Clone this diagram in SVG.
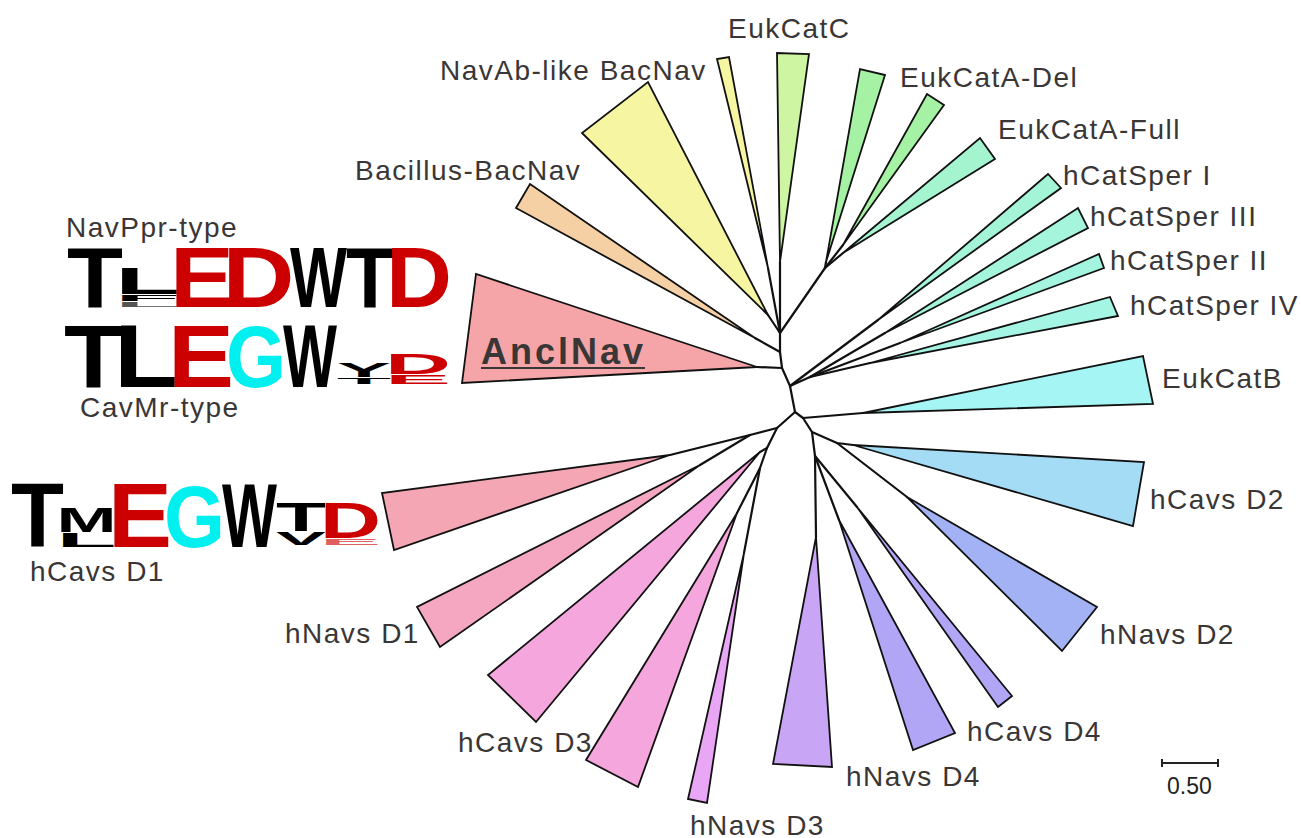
<svg xmlns="http://www.w3.org/2000/svg" width="1301" height="838" viewBox="0 0 1301 838">
  <style>
    .clade { stroke: #111; stroke-width: 1.8; stroke-linejoin: miter; }
    .edge { fill: none; stroke: #111; stroke-width: 2.2; stroke-linecap: round; stroke-linejoin: round; }
    .lbl { font-family: "Liberation Sans", Arial, sans-serif; font-size: 28px; fill: #3a3636; letter-spacing: 1.5px; }
    .logo { font-family: "Liberation Sans", Arial, sans-serif; font-weight: bold; font-size: 100px; }
    .k { fill: #000; }
    .r { fill: #cc0000; }
    .c { fill: #00f0f0; }
  </style>

  <!-- branches of the unrooted tree -->
  <g id="connectors">
    <!-- spine -->
    <polyline class="edge" points="780,333 780,352 782,368 790,386 795,412"/>
    <!-- upper group -->
    <line class="edge" x1="780" y1="333" x2="768" y2="315"/>
    <line class="edge" x1="780" y1="333" x2="768" y2="268"/>
    <line class="edge" x1="780" y1="333" x2="780" y2="262"/>
    <line class="edge" x1="780" y1="333" x2="825" y2="268"/>
    <line class="edge" x1="825" y1="268" x2="826" y2="262"/>
    <line class="edge" x1="825" y1="268" x2="843" y2="245"/>
    <line class="edge" x1="825" y1="268" x2="843" y2="253"/>
    <line class="edge" x1="780" y1="352" x2="755" y2="338"/>
    <line class="edge" x1="782" y1="368" x2="757" y2="367"/>
    <!-- CatSper group -->
    <line class="edge" x1="790" y1="386" x2="878" y2="320"/>
    <line class="edge" x1="790" y1="386" x2="810" y2="377"/>
    <line class="edge" x1="810" y1="377" x2="885" y2="333"/>
    <line class="edge" x1="810" y1="377" x2="900" y2="343"/>
    <line class="edge" x1="810" y1="377" x2="870" y2="363"/>
    <!-- right lower group -->
    <polyline class="edge" points="795,412 803,418 863,413"/>
    <polyline class="edge" points="803,418 812,432 837,443 853,445"/>
    <line class="edge" x1="837" y1="443" x2="907" y2="497"/>
    <polyline class="edge" points="812,432 815,456 816,537"/>
    <line class="edge" x1="815" y1="456" x2="839" y2="520"/>
    <line class="edge" x1="815" y1="456" x2="857" y2="507"/>
    <!-- left lower group -->
    <polyline class="edge" points="795,412 777,428 750,435 670,455"/>
    <line class="edge" x1="750" y1="435" x2="700" y2="465"/>
    <polyline class="edge" points="777,428 767,448 760,452"/>
    <polyline class="edge" points="767,448 760,468 737,513"/>
    <line class="edge" x1="760" y1="468" x2="744" y2="553"/>
  </g>

  <!-- collapsed clades -->
  <g id="navab-like-bacnav">
    <polygon class="clade" fill="#f6f5a2" points="768,315 582,133 648,82"/>
    <polygon class="clade" fill="#f6f5a2" points="768,268 717,59 729,57"/>
    <text class="lbl" x="440" y="80">NavAb-like BacNav</text>
  </g>
  <g id="eukcatc">
    <polygon class="clade" fill="#cdf5a2" points="780,262 777,53 809,54"/>
    <text class="lbl" x="728" y="38">EukCatC</text>
  </g>
  <g id="eukcata-del">
    <polygon class="clade" fill="#a6f2a4" points="826,262 860,69 885,75"/>
    <polygon class="clade" fill="#a6f2a4" points="843,245 927,94 944,105"/>
    <text class="lbl" x="900" y="87">EukCatA-Del</text>
  </g>
  <g id="eukcata-full">
    <polygon class="clade" fill="#a4f5cf" points="843,253 980,138 995,159"/>
    <text class="lbl" x="998" y="139">EukCatA-Full</text>
  </g>
  <g id="bacillus-bacnav">
    <polygon class="clade" fill="#f6d0a5" points="755,338 516,208 530,184"/>
    <text class="lbl" x="355" y="180">Bacillus-BacNav</text>
  </g>
  <g id="anclnav">
    <polygon class="clade" fill="#f5a5a8" points="757,367 476,274 462,383"/>
    <text x="481" y="364" style="font-family:'Liberation Sans',Arial,sans-serif;font-weight:bold;font-size:36px;letter-spacing:3px;fill:#3a3636">AnclNav</text>
    <line x1="481" y1="368" x2="645" y2="368" stroke="#3a3636" stroke-width="2"/>
  </g>
  <g id="hcatsper-i">
    <polygon class="clade" fill="#a4f5d8" points="878,320 1048,174 1061,188"/>
    <text class="lbl" x="1063" y="185">hCatSper I</text>
  </g>
  <g id="hcatsper-iii">
    <polygon class="clade" fill="#a4f5dc" points="885,333 1078,208 1088,228"/>
    <text class="lbl" x="1090" y="226">hCatSper III</text>
  </g>
  <g id="hcatsper-ii">
    <polygon class="clade" fill="#a4f5e0" points="900,343 1099,254 1104,268"/>
    <text class="lbl" x="1110" y="270">hCatSper II</text>
  </g>
  <g id="hcatsper-iv">
    <polygon class="clade" fill="#a4f5e4" points="870,363 1110,297 1118,316"/>
    <text class="lbl" x="1130" y="315">hCatSper IV</text>
  </g>
  <g id="eukcatb">
    <polygon class="clade" fill="#a6f5f5" points="863,413 1143,356 1153,404"/>
    <text class="lbl" x="1162" y="388">EukCatB</text>
  </g>
  <g id="hcavs-d2">
    <polygon class="clade" fill="#a4dcf5" points="853,445 1144,462 1133,526"/>
    <text class="lbl" x="1150" y="509">hCavs D2</text>
  </g>
  <g id="hnavs-d2">
    <polygon class="clade" fill="#a2b2f5" points="907,497 1097,607 1062,651"/>
    <text class="lbl" x="1100" y="644">hNavs D2</text>
  </g>
  <g id="hcavs-d4">
    <polygon class="clade" fill="#b1a6f5" points="839,520 955,733 913,750"/>
    <polygon class="clade" fill="#b1a6f5" points="857,507 1012,696 998,707"/>
    <text class="lbl" x="967" y="741">hCavs D4</text>
  </g>
  <g id="hnavs-d4">
    <polygon class="clade" fill="#c9a6f5" points="816,537 832,767 773,764"/>
    <text class="lbl" x="846" y="786">hNavs D4</text>
  </g>
  <g id="hnavs-d3">
    <polygon class="clade" fill="#e8a6f5" points="744,553 707,803 688,799"/>
    <text class="lbl" x="690" y="835">hNavs D3</text>
  </g>
  <g id="hcavs-d3">
    <polygon class="clade" fill="#f5a6dc" points="760,452 536,722 488,675"/>
    <polygon class="clade" fill="#f5a6dc" points="737,513 638,787 586,760"/>
    <text class="lbl" x="458" y="752">hCavs D3</text>
  </g>
  <g id="hnavs-d1">
    <polygon class="clade" fill="#f5a6c0" points="700,465 440,647 417,607"/>
    <text class="lbl" x="285" y="643">hNavs D1</text>
  </g>
  <g id="hcavs-d1">
    <polygon class="clade" fill="#f5a6b4" points="670,455 382,493 394,550"/>
    <text class="lbl" x="30" y="581">hCavs D1</text>
  </g>

  <!-- selectivity-filter sequence logos -->
  <g id="logo-navppr">
    <text class="lbl" x="66" y="237">NavPpr-type</text>
    <text class="logo k" textLength="56" lengthAdjust="spacingAndGlyphs" transform="translate(67,307) scale(1,0.861)">T</text>
    <text class="logo k" textLength="65" lengthAdjust="spacingAndGlyphs" transform="translate(115,294) scale(1,0.36)">L</text>
    <text class="logo k" textLength="65" lengthAdjust="spacingAndGlyphs" transform="translate(115,301) scale(1,0.09)">F</text>
    <text class="logo" fill="#555" textLength="65" lengthAdjust="spacingAndGlyphs" transform="translate(115,307) scale(1,0.08)">L</text>
    <text class="logo r" textLength="64" lengthAdjust="spacingAndGlyphs" transform="translate(170,307) scale(1,0.861)">E</text>
    <text class="logo r" textLength="72" lengthAdjust="spacingAndGlyphs" transform="translate(222.5,307) scale(1,0.861)">D</text>
    <text class="logo k" textLength="57" lengthAdjust="spacingAndGlyphs" transform="translate(290,307) scale(1,0.861)">W</text>
    <text class="logo k" textLength="48" lengthAdjust="spacingAndGlyphs" transform="translate(346,307) scale(1,0.861)">T</text>
    <text class="logo r" textLength="66" lengthAdjust="spacingAndGlyphs" transform="translate(386,307) scale(1,0.861)">D</text>
  </g>
  <g id="logo-cavmr">
    <text class="logo k" textLength="59" lengthAdjust="spacingAndGlyphs" transform="translate(64,387) scale(1,0.889)">T</text>
    <text class="logo k" textLength="64" lengthAdjust="spacingAndGlyphs" transform="translate(114,387) scale(1,0.889)">L</text>
    <text class="logo r" textLength="66" lengthAdjust="spacingAndGlyphs" transform="translate(168,387) scale(1,0.889)">E</text>
    <text class="logo c" textLength="60" lengthAdjust="spacingAndGlyphs" transform="translate(226,387) scale(1,0.87)">G</text>
    <text class="logo k" textLength="54" lengthAdjust="spacingAndGlyphs" transform="translate(283,387) scale(1,0.889)">W</text>
    <text class="logo k" textLength="54" lengthAdjust="spacingAndGlyphs" transform="translate(337,377) scale(1,0.2)">Y</text>
    <text class="logo k" textLength="54" lengthAdjust="spacingAndGlyphs" transform="translate(337,384) scale(1,0.09)">T</text>
    <text class="logo r" textLength="66" lengthAdjust="spacingAndGlyphs" transform="translate(385,374) scale(1,0.29)">D</text>
    <text class="logo r" textLength="66" lengthAdjust="spacingAndGlyphs" transform="translate(385,384) scale(1,0.12)">E</text>
    <text class="lbl" x="80" y="417">CavMr-type</text>
  </g>
  <g id="logo-hcavs-d1">
    <text class="logo k" textLength="53" lengthAdjust="spacingAndGlyphs" transform="translate(11,547) scale(1,0.903)">T</text>
    <text class="logo k" textLength="60" lengthAdjust="spacingAndGlyphs" transform="translate(56.5,532) scale(1,0.347)">M</text>
    <text class="logo k" textLength="60" lengthAdjust="spacingAndGlyphs" transform="translate(56.5,547) scale(1,0.2)">L</text>
    <text class="logo r" textLength="64" lengthAdjust="spacingAndGlyphs" transform="translate(108,547) scale(1,0.903)">E</text>
    <text class="logo c" textLength="61" lengthAdjust="spacingAndGlyphs" transform="translate(164,547) scale(1,0.88)">G</text>
    <text class="logo k" textLength="55" lengthAdjust="spacingAndGlyphs" transform="translate(222,547) scale(1,0.903)">W</text>
    <text class="logo k" textLength="50" lengthAdjust="spacingAndGlyphs" transform="translate(276,531) scale(1,0.4)">T</text>
    <text class="logo k" textLength="50" lengthAdjust="spacingAndGlyphs" transform="translate(276,545) scale(1,0.18)">V</text>
    <text class="logo r" textLength="61" lengthAdjust="spacingAndGlyphs" transform="translate(320,538) scale(1,0.5)">D</text>
    <text class="logo" fill="#e06060" textLength="61" lengthAdjust="spacingAndGlyphs" transform="translate(320,545) scale(1,0.09)">E</text>
  </g>

  <!-- scale bar -->
  <g id="scale-bar">
    <path d="M1162,763 H1218 M1162,759 V767 M1218,759 V767" stroke="#222" stroke-width="2" fill="none"/>
    <text x="1167" y="794" style="font-family:'Liberation Sans',Arial,sans-serif;font-size:23px;fill:#222">0.50</text>
  </g>
</svg>
